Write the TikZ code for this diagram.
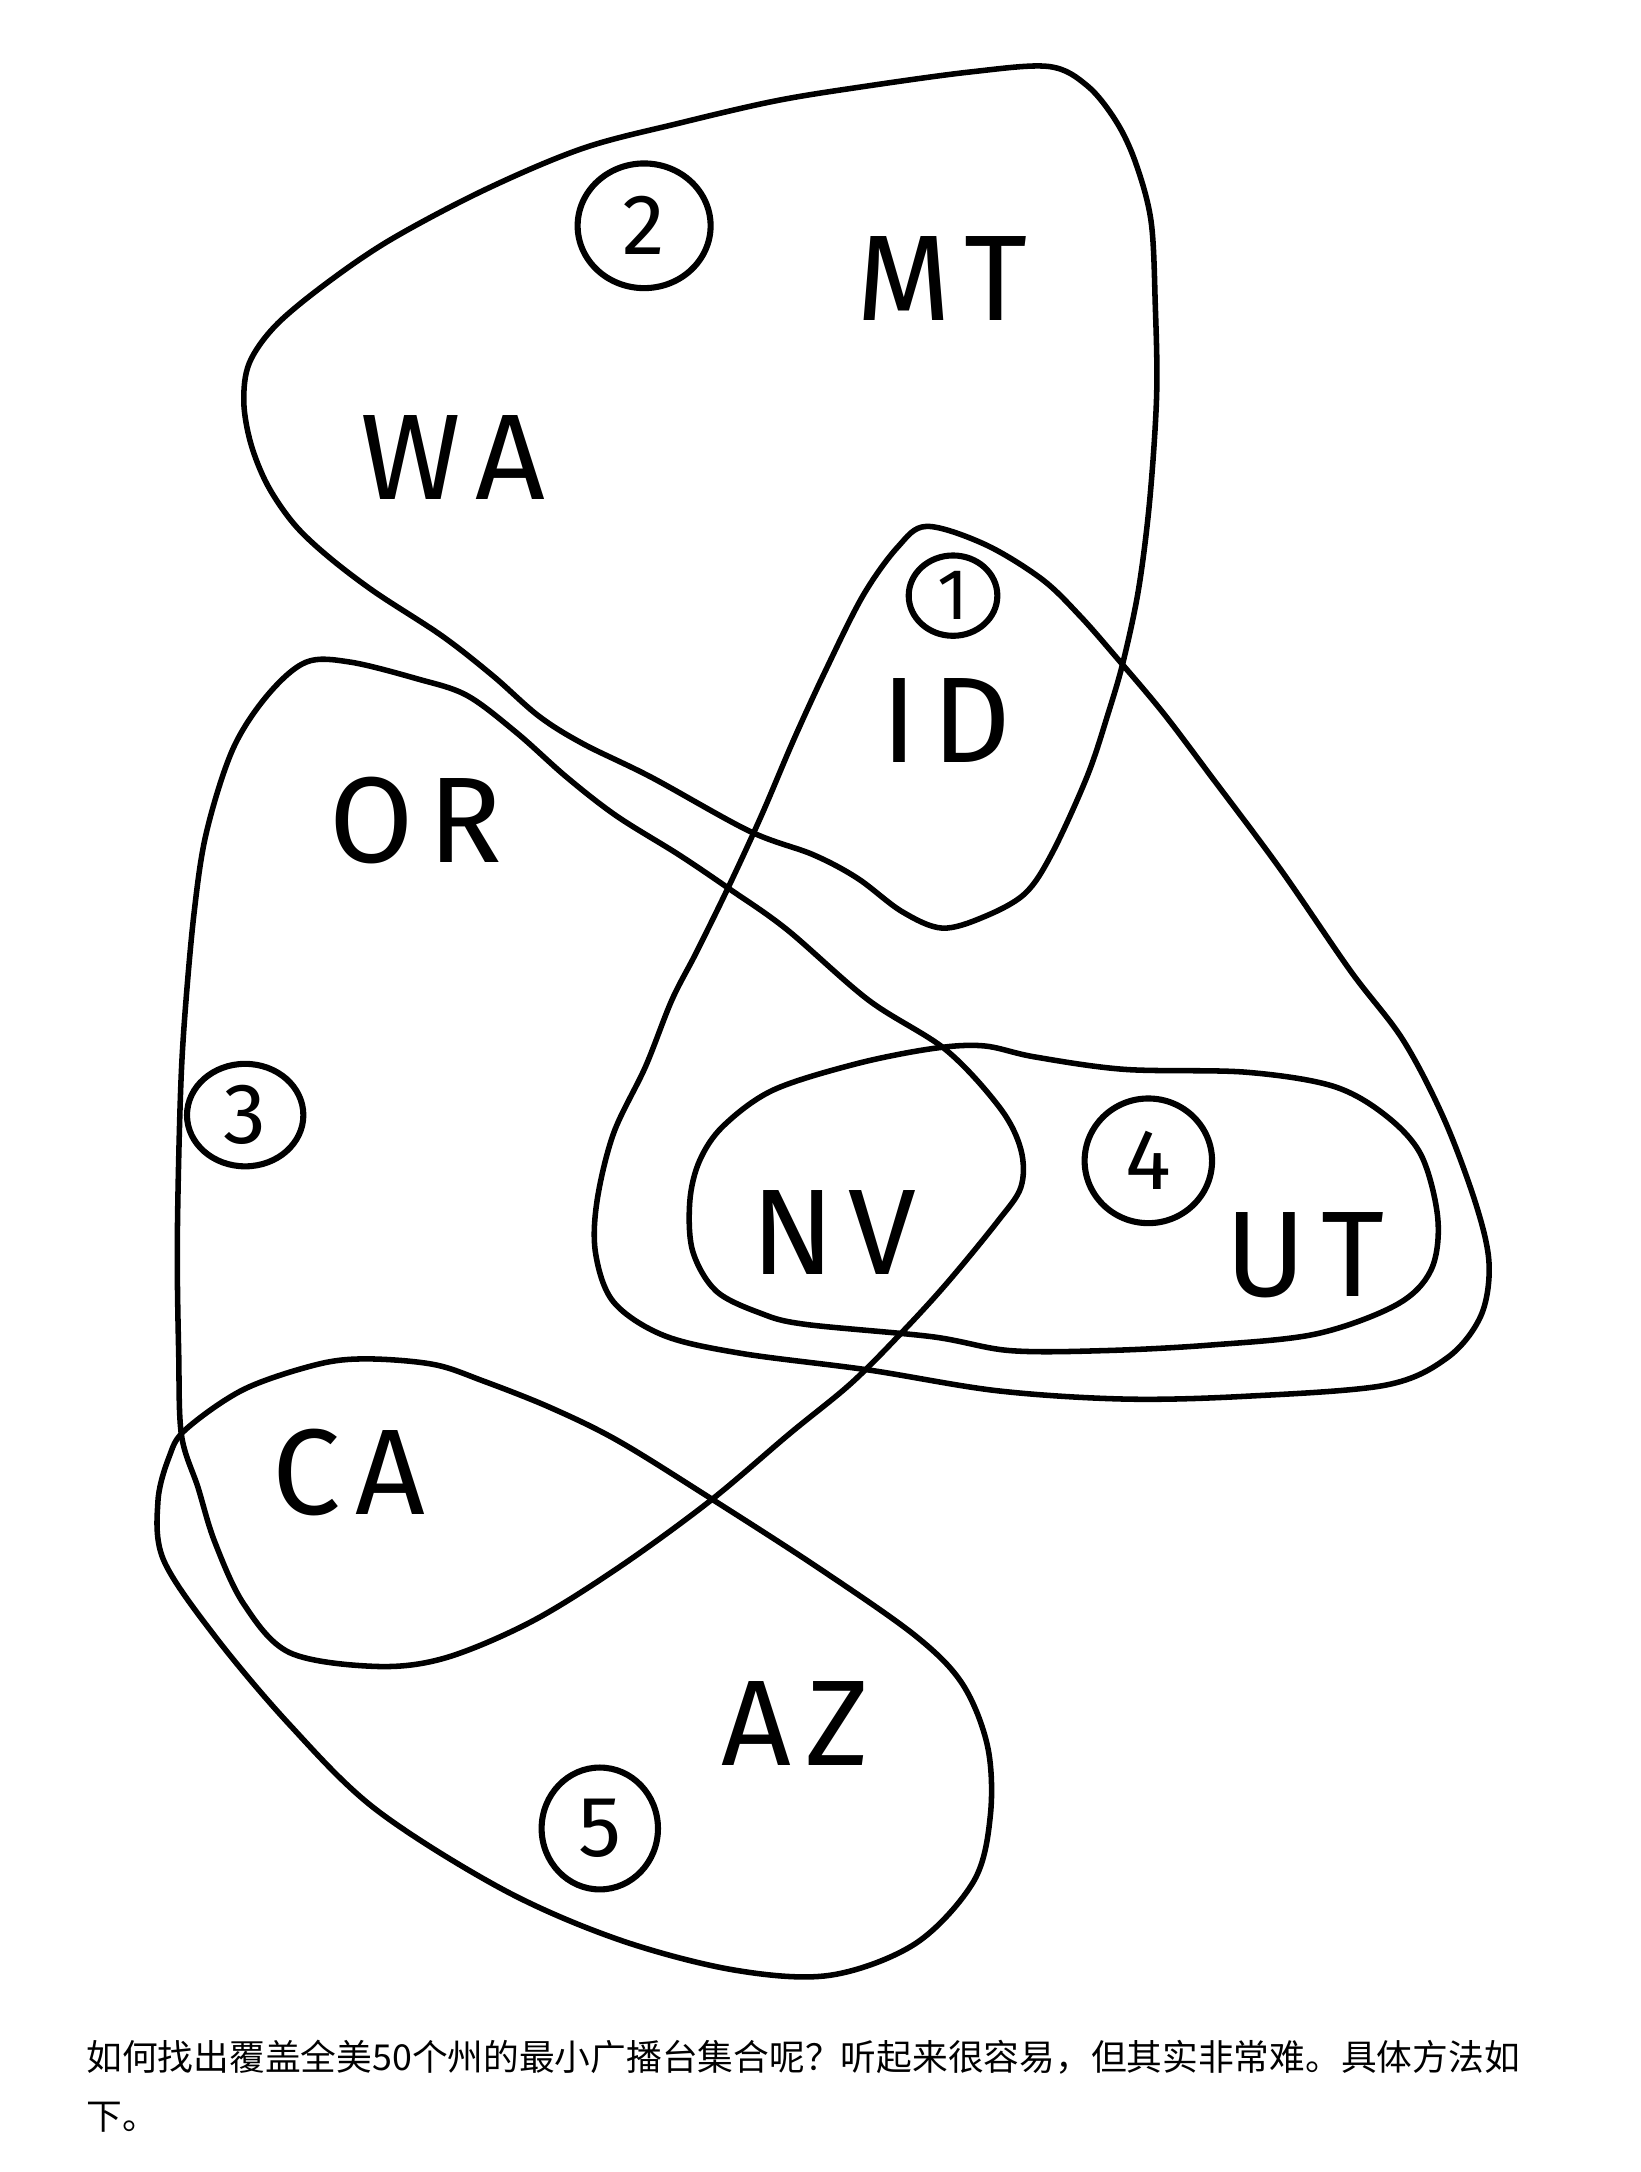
\documentclass[tikz,border=0pt]{standalone}
\usepackage{fontspec}
\usetikzlibrary{shapes.geometric}
\setmainfont{Fira Sans}
\newfontfamily\labfont[LetterSpace=12]{Fira Sans}
\newfontfamily\cjk{Noto Sans CJK SC}
\begin{document}
\begin{tikzpicture}[x=0.5pt,y=-0.5pt,
  outline/.style={line width=2.0pt, line join=round},
  statelab/.style={inner sep=0pt, font=\labfont\fontsize{44}{44}\selectfont},
  stn/.style={draw, line width=2.2pt, ellipse, inner sep=0pt, font=\labfont\fontsize{31}{31}\selectfont}]
\useasboundingbox (0,0) rectangle (1184,1568);
% shape A: WA MT ID (station 2)
\draw[outline] plot[smooth cycle, tension=0.55] coordinates {
 (757,48) (700,52) (620,63) (559,73) (490,89) (421,107) (350,137) (282,173)
 (235,205) (199,235) (180,262) (176,290) (181,320) (193,350) (212,378) (236,401)
 (270,427) (319,459) (356,488) (389,517) (421,537) (470,561) (541,600) (587,617)
 (619,634) (651,658) (680,670) (710,662) (740,645) (760,615) (785,560) (800,515)
 (811,477) (822,425) (830,361) (835,285) (834,220) (831,160) (820,118) (806,88) (785,62)};
% shape B: ID NV UT (station 1)
\draw[outline] plot[smooth cycle, tension=0.55] coordinates {
 (669,380) (711,393) (752,418) (780,445) (808,477) (840,515) (874,560) (924,627)
 (975,701) (1013,751) (1043,809) (1066,871) (1075,913) (1069,950) (1045,980)
 (1000,1000) (899,1008) (812,1010) (720,1004) (627,989) (535,977) (479,964)
 (443,940) (430,905) (431,867) (443,818) (466,770) (485,722) (503,687) (527,638)
 (550,588) (573,534) (596,484) (623,430) (648,395)};
% shape D: NV UT (station 4)
\draw[outline] plot[smooth cycle, tension=0.55] coordinates {
 (498,867) (505,838) (522,813) (558,787) (618,768) (673,757) (710,755) (747,763)
 (812,772) (899,774) (962,784) (1000,805) (1026,834) (1038,880) (1033,917)
 (1008,942) (950,963) (874,971) (798,975) (729,975) (673,965) (581,956)
 (549,948) (517,932) (500,903)};
% shape C: OR NV CA (station 3)
\draw[outline] plot[smooth cycle, tension=0.55] coordinates {
 (221,478) (253,478) (301,490) (337,502) (373,529) (409,561) (445,589) (490,617)
 (527,642) (568,671) (627,722) (683,758) (722,800) (737,830) (737,857) (720,882)
 (683,927) (650,963) (614,999) (570,1035) (512,1084) (446,1132) (383,1171)
 (321,1197) (271,1203) (209,1193) (176,1158) (155,1113) (143,1074) (131,1036)
 (129,977) (128,898) (130,799) (133,739) (140,660) (149,601) (168,541) (193,502)};
% shape E: CA AZ (station 5)
\draw[outline] plot[smooth cycle, tension=0.55] coordinates {
 (134,1032) (176,1003) (229,985) (265,981) (313,985) (349,997) (397,1016)
 (446,1040) (512,1081) (591,1132) (661,1181) (695,1216) (713,1261) (715,1310)
 (703,1358) (661,1403) (599,1426) (529,1422) (446,1400) (363,1364) (271,1306)
 (209,1245) (155,1181) (118,1126) (114,1084) (122,1052)};
% state labels
\node[statelab] (mt) at (680,201) {MT};
\node[statelab] (wa) at (327,330) {WA};
\node[statelab] (id) at (683,520) {ID};
\node[statelab] (or) at (300,592) {OR};
\node[statelab] (nv) at (602,890) {NV};
\node[statelab] (ut) at (942,906) {UT};
\node[statelab] (ca) at (252,1063) {CA};
\node[statelab] (az) at (574,1244) {AZ};
% station markers
\node[stn, minimum width=48pt, minimum height=45pt] (s2) at (465,163) {2};
\node[stn, minimum width=32pt, minimum height=29pt, font=\labfont\fontsize{26}{26}\selectfont] (s1) at (688,430) {1};
\node[stn, minimum width=42pt, minimum height=37pt] (s3) at (177,805) {3};
\node[stn, minimum width=46pt, minimum height=45pt] (s4) at (829,838) {4};
\node[stn, minimum width=42pt, minimum height=44pt] (s5) at (433,1320) {5};
% caption
\node[anchor=base west, inner sep=0pt, font=\cjk\fontsize{12.9}{12.9}\selectfont] (cap1) at (62,1495) {如何找出覆盖全美50个州的最小广播台集合呢？听起来很容易，但其实非常难。具体方法如};
\node[anchor=base west, inner sep=0pt, font=\cjk\fontsize{12.9}{12.9}\selectfont] (cap2) at (62,1537) {下。};
\end{tikzpicture}
\end{document}
